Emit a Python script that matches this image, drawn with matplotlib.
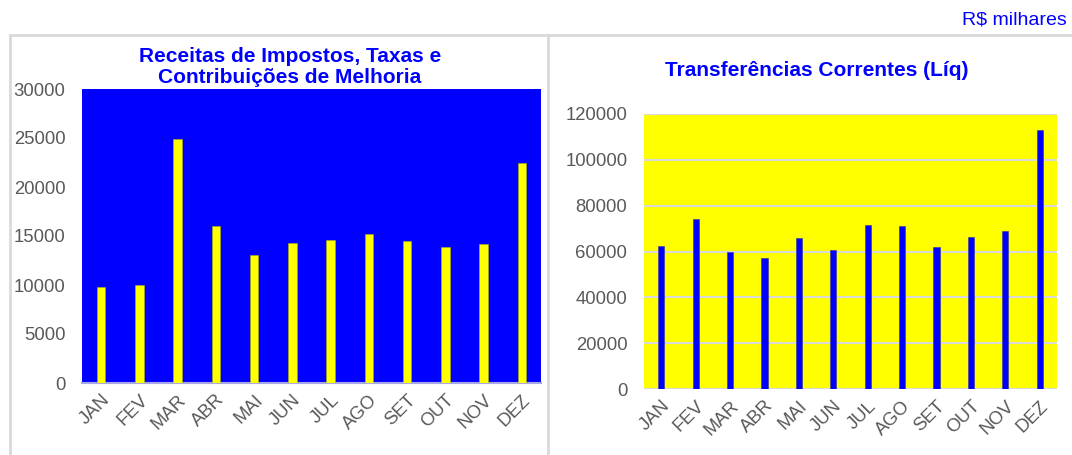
import matplotlib.pyplot as plt
from matplotlib.lines import Line2D

plt.rcParams['font.family'] = ['Liberation Sans', 'DejaVu Sans']

# meses
meses = ['JAN', 'FEV', 'MAR', 'ABR', 'MAI', 'JUN', 'JUL', 'AGO', 'SET', 'OUT', 'NOV', 'DEZ']

# receitas de impostos, taxas e contribuicoes de melhoria (R$ milhares)
impostos = [9800, 10000, 24900, 16000, 13100, 14300, 14550, 15200, 14500, 13900, 14150, 22450]

# transferencias correntes liquidas (R$ milhares)
transferencias = [62500, 74000, 60000, 57000, 65700, 60700, 71600, 71300, 62000, 66500, 69100, 113000]

W, H = 1072, 455
fig = plt.figure(figsize=(W / 100, H / 100), dpi=100)
fig.patch.set_facecolor('white')

def box(x0, y0, x1, y1):
    return [x0 / W, 1 - y1 / H, (x1 - x0) / W, (y1 - y0) / H]

cinza = '#595959'
borda = '#D9D9D9'
tam_tick = 13.3
tam_titulo = 15

# molduras dos paineis
for xs, ys in [([10, 10], [35, 455]), ([10, 1072], [35, 35]), ([548, 548], [35, 455])]:
    fig.add_artist(Line2D([x / W for x in xs], [1 - y / H for y in ys],
                          color=borda, lw=2, transform=fig.transFigure))

fig.text(962 / W, 1 - 24 / H, 'R$ milhares', color='#0000FF', fontsize=14,
         ha='left', va='baseline')

# grafico da esquerda
ax1 = fig.add_axes(box(82, 89, 541, 383))
x = range(len(meses))
ax1.bar(x, impostos, width=0.22, color='#FFFF00', edgecolor='#B0B000', linewidth=0.4, zorder=3)
ax1.set_facecolor('#0000FF')
ax1.set_xlim(-0.5, 11.5)
ax1.set_ylim(0, 30000)
ax1.set_yticks(range(0, 30001, 5000))
for s in ['top', 'right', 'left']:
    ax1.spines[s].set_visible(False)
ax1.spines['bottom'].set_color('#A8A8E8')
ax1.spines['bottom'].set_linewidth(1.5)
ax1.set_xticks(list(x))
ax1.set_xticklabels(meses, rotation=45, ha='right', rotation_mode='anchor')
ax1.tick_params(axis='both', length=0, labelsize=tam_tick, labelcolor=cinza)
ax1.tick_params(axis='y', pad=12)
ax1.tick_params(axis='x', pad=6)
fig.text(290 / W, 1 - 62 / H, 'Receitas de Impostos, Taxas e', color='#0000FF',
         fontsize=tam_titulo, fontweight='bold', ha='center', va='baseline')
fig.text(290 / W, 1 - 83 / H, 'Contribuições de Melhoria', color='#0000FF',
         fontsize=tam_titulo, fontweight='bold', ha='center', va='baseline')

# grafico da direita
ax2 = fig.add_axes(box(644, 114, 1057, 389))
ax2.bar(x, transferencias, width=0.18, color='#0000FF', edgecolor='#3030A0', linewidth=0.4, zorder=3)
ax2.set_facecolor('#FFFF00')
ax2.set_xlim(-0.5, 11.5)
ax2.set_ylim(0, 120000)
ax2.set_yticks(range(0, 120001, 20000))
ax2.grid(axis='y', color=borda, lw=1.5, zorder=1)
for s in ['top', 'right', 'left', 'bottom']:
    ax2.spines[s].set_visible(False)
ax2.set_xticks(list(x))
ax2.set_xticklabels(meses, rotation=45, ha='right', rotation_mode='anchor')
ax2.tick_params(axis='both', length=0, labelsize=tam_tick, labelcolor=cinza)
ax2.tick_params(axis='y', pad=12)
ax2.tick_params(axis='x', pad=6)
fig.text(817 / W, 1 - 76 / H, 'Transferências Correntes (Líq)', color='#0000FF',
         fontsize=tam_titulo, fontweight='bold', ha='center', va='baseline')

fig.savefig('out.png', dpi=100)
